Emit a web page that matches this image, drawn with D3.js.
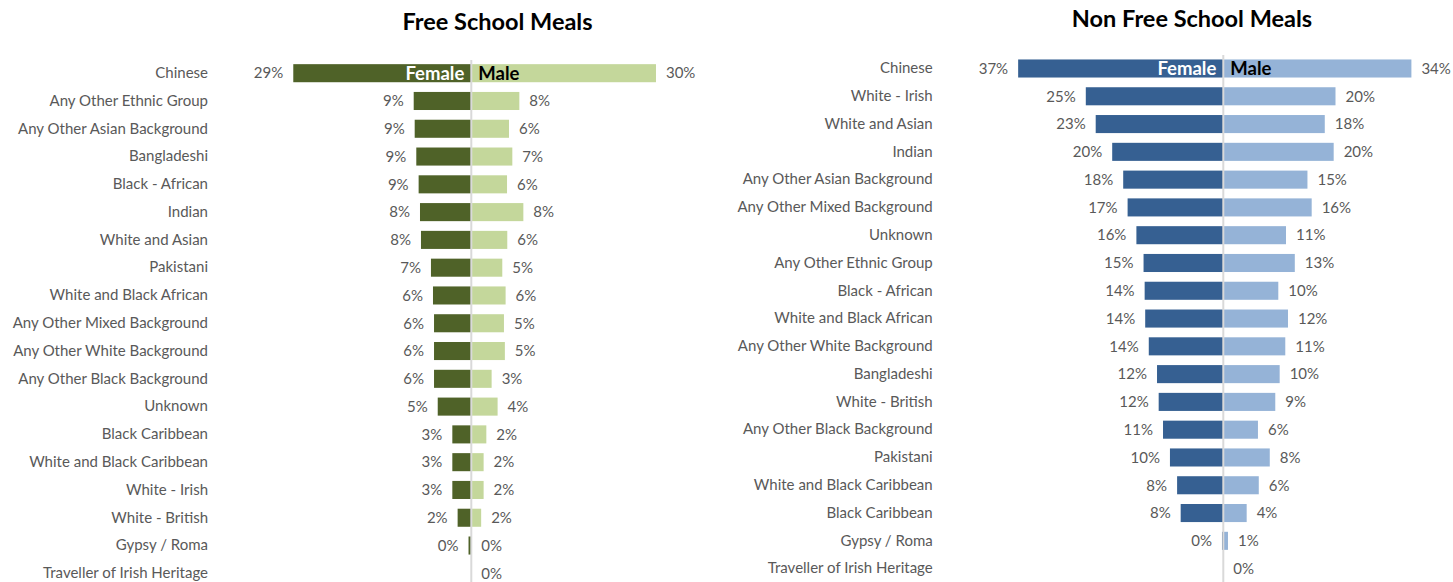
<!DOCTYPE html>
<html><head><meta charset="utf-8">
<script src="https://cdn.jsdelivr.net/npm/d3@7"></script>
<style>html,body{margin:0;padding:0;background:#fff;}svg{display:block;}</style>
</head><body>
<svg id="c" width="1453" height="582"></svg>
<script>
// ---- data ----
const fsmCategories = ["Chinese","Any Other Ethnic Group","Any Other Asian Background","Bangladeshi","Black - African","Indian","White and Asian","Pakistani","White and Black African","Any Other Mixed Background","Any Other White Background","Any Other Black Background","Unknown","Black Caribbean","White and Black Caribbean","White - Irish","White - British","Gypsy / Roma","Traveller of Irish Heritage"];
const fsmFemale = [28.9,9.35,9.19,8.93,8.55,8.33,8.17,6.55,6.22,6.05,6.05,6.05,5.45,3.08,3.08,3.08,2.22,0.45,null];
const fsmMale   = [29.98,7.8,6.12,6.66,5.8,8.45,5.84,5.03,5.57,5.3,5.45,3.3,4.27,2.44,2.0,2.0,1.6,0,0];

const nfsmCategories = ["Chinese","White - Irish","White and Asian","Indian","Any Other Asian Background","Any Other Mixed Background","Unknown","Any Other Ethnic Group","Black - African","White and Black African","Any Other White Background","Bangladeshi","White - British","Any Other Black Background","Pakistani","White and Black Caribbean","Black Caribbean","Gypsy / Roma","Traveller of Irish Heritage"];
const nfsmFemale = [37.3,25.0,23.2,20.2,18.2,17.4,15.8,14.5,14.3,14.2,13.55,12.05,11.75,10.96,9.7,8.4,7.75,0.24,null];
const nfsmMale   = [34.2,20.4,18.45,20.07,15.3,16.07,11.4,13.0,10.0,11.76,11.27,10.25,9.45,6.3,8.45,6.45,4.25,0.85,0];

const seriesNames = ["Female","Male"];
// ---- end data ----

const svg = d3.select("#c");
const FONT = "Lato, 'Open Sans', sans-serif";
const pct = v => d3.format(".0%")(Math.round(v)/100);

function panel(cfg){
  const {title, titleX, titleY, cats, fem, mal, axisX, domainMax, pxMax, yTop, yBottom, labelX, lineTop, colF, colM} = cfg;
  const g = svg.append("g");
  const x = d3.scaleLinear().domain([0, domainMax]).range([0, pxMax]);
  const y = d3.scaleBand().domain(cats).range([yTop, yBottom]).paddingInner(0.35).paddingOuter(0.175);

  g.append("text").attr("x", titleX).attr("y", titleY).attr("text-anchor","middle")
    .attr("font-family", FONT).attr("font-weight","bold").attr("font-size", 23.5).attr("fill","#000").text(title);

  // category axis
  const ax = g.append("g").attr("transform", `translate(${labelX},0)`)
    .call(d3.axisLeft(y).tickSize(0).tickPadding(0));
  ax.select(".domain").remove();
  ax.selectAll("text").attr("font-family", FONT).attr("font-size", 15).attr("fill","#595959");

  const rows = cats.map((c,i)=>({c, f: fem[i], m: mal[i], i}));

  g.selectAll(".bf").data(rows.filter(d=>d.f!=null)).join("rect")
    .attr("x", d=>axisX - x(d.f)).attr("y", d=>y(d.c)).attr("width", d=>x(d.f)).attr("height", y.bandwidth())
    .attr("fill", colF);
  g.selectAll(".bm").data(rows.filter(d=>d.m!=null)).join("rect")
    .attr("x", axisX).attr("y", d=>y(d.c)).attr("width", d=>x(d.m)).attr("height", y.bandwidth())
    .attr("fill", colM);

  g.append("line").attr("x1", axisX).attr("x2", axisX).attr("y1", lineTop).attr("y2", 582)
    .attr("stroke","#d9d9d9").attr("stroke-width",2);

  g.selectAll(".lf").data(rows.filter(d=>d.f!=null)).join("text")
    .attr("x", d=>axisX - x(d.f) - 10).attr("y", d=>y(d.c)+y.bandwidth()/2).attr("dy","0.35em")
    .attr("text-anchor","end").attr("font-family",FONT).attr("font-size",15).attr("fill","#595959")
    .text(d=>pct(d.f));
  g.selectAll(".lm").data(rows.filter(d=>d.m!=null)).join("text")
    .attr("x", d=>axisX + x(d.m) + 10).attr("y", d=>y(d.c)+y.bandwidth()/2).attr("dy","0.35em")
    .attr("text-anchor","start").attr("font-family",FONT).attr("font-size",15).attr("fill","#595959")
    .text(d=>pct(d.m));

  const c0 = cats[0];
  g.append("text").attr("x", axisX-7).attr("y", y(c0)+y.bandwidth()/2).attr("dy","0.36em")
    .attr("text-anchor","end").attr("font-family",FONT).attr("font-weight","bold").attr("font-size",18.5)
    .attr("fill","#fff").text(seriesNames[0]);
  g.append("text").attr("x", axisX+7).attr("y", y(c0)+y.bandwidth()/2).attr("dy","0.36em")
    .attr("text-anchor","start").attr("font-family",FONT).attr("font-weight","bold").attr("font-size",18.5)
    .attr("fill","#000").text(seriesNames[1]);
}

panel({title:"Free School Meals", titleX:497.5, titleY:30, cats:fsmCategories, fem:fsmFemale, mal:fsmMale,
  axisX:471.3, domainMax:30, pxMax:184.8, yTop:59.3, yBottom:587.2, labelX:208, lineTop:60,
  colF:"#4f6228", colM:"#c4d79b"});
panel({title:"Non Free School Meals", titleX:1192, titleY:27, cats:nfsmCategories, fem:nfsmFemale, mal:nfsmMale,
  axisX:1223.3, domainMax:40, pxMax:220, yTop:54.6, yBottom:582.5, labelX:932.7, lineTop:55,
  colF:"#366092", colM:"#95b3d7"});
</script>
</body></html>
